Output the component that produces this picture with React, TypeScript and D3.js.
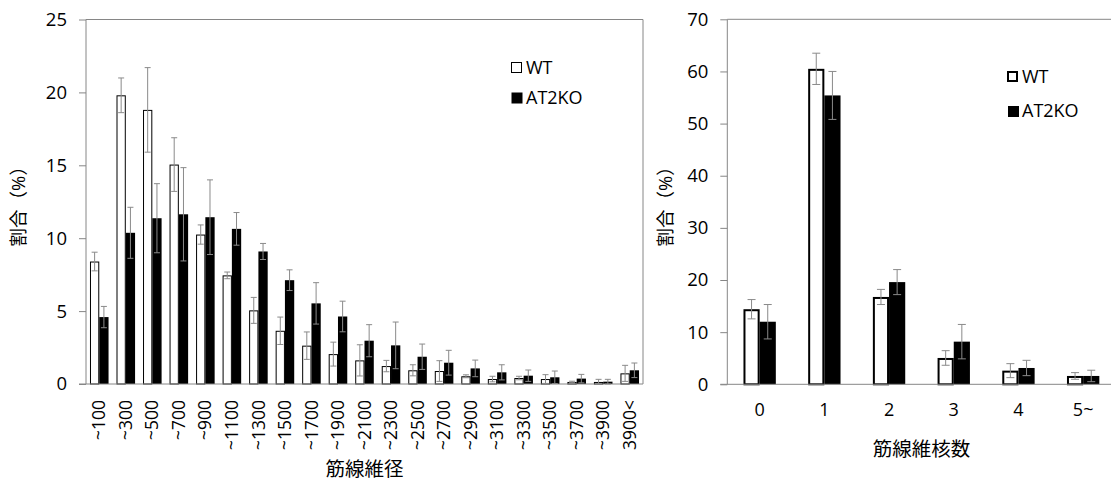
import React, { useEffect, useRef } from 'react';
import * as d3 from 'd3';

// 筋線維径 (fiber diameter) distribution
const diamCats = ['~100', '~300', '~500', '~700', '~900', '~1100', '~1300', '~1500', '~1700', '~1900', '~2100',
  '~2300', '~2500', '~2700', '~2900', '~3100', '~3300', '~3500', '~3700', '~3900', '3900<'];
const diamWT = [8.4, 19.8, 18.8, 15.05, 10.25, 7.45, 5.05, 3.65, 2.63, 2.05, 1.62, 1.23, 0.94, 0.89, 0.53, 0.34, 0.41, 0.34, 0.14, 0.14, 0.73];
const diamWTErr = [0.64, 1.19, 2.9, 1.84, 0.66, 0.23, 0.89, 0.94, 0.94, 0.82, 1.07, 0.39, 0.38, 0.71, 0.1, 0.19, 0.12, 0.3, 0.05, 0.18, 0.55];
const diamKO = [4.59, 10.37, 11.37, 11.64, 11.44, 10.64, 9.09, 7.12, 5.53, 4.63, 2.97, 2.65, 1.87, 1.46, 1.07, 0.8, 0.57, 0.46, 0.37, 0.16, 0.94];
const diamKOErr = [0.73, 1.75, 2.37, 3.2, 2.56, 1.12, 0.55, 0.71, 1.42, 1.05, 1.1, 1.6, 0.87, 0.85, 0.57, 0.52, 0.39, 0.43, 0.29, 0.16, 0.5];
const diamTicks = [0, 5, 10, 15, 20, 25];

// 筋線維核数 (nuclei per fiber)
const nucCats = ['0', '1', '2', '3', '4', '5~'];
const nucWT = [14.4, 60.5, 16.75, 5.05, 2.62, 1.6];
const nucWTErr = [1.85, 3.0, 1.45, 1.4, 1.34, 0.64];
const nucKO = [12.0, 55.4, 19.6, 8.18, 3.13, 1.6];
const nucKOErr = [3.3, 4.6, 2.4, 3.3, 1.47, 1.1];
const nucTicks = [0, 10, 20, 30, 40, 50, 60, 70];

const seriesNames = ['WT', 'AT2KO'];
const FONT = '"Open Sans", "Noto Sans CJK JP", sans-serif';
const AXIS = '#868686';
const INK = '#000';

function drawPanel(svg, opt) {
  const { cats, wt, wtErr, ko, koErr, ticks, left, right, top, bottom, ymax,
    rotateLabels, xTitle, xTitleY, yTitleX, wtStroke, cap, pad, legendX, legendY, legendGap, closeRight } = opt;

  const x = d3.scaleBand().domain(cats).range([left, right]).paddingInner(pad).paddingOuter(pad / 2);
  const xs = d3.scaleBand().domain(seriesNames).range([0, x.bandwidth()]);
  const y = d3.scaleLinear().domain([0, ymax]).range([bottom, top]);

  const g = svg.append('g');

  // frame
  g.append('line').attr('x1', left).attr('x2', right).attr('y1', top).attr('y2', top).attr('stroke', AXIS);
  if (closeRight) g.append('line').attr('x1', right).attr('x2', right).attr('y1', top).attr('y2', bottom).attr('stroke', AXIS);

  // y axis
  const ya = g.append('g').attr('transform', `translate(${left},0)`)
    .call(d3.axisLeft(y).tickValues(ticks).tickSize(7).tickPadding(12).tickFormat(d3.format('d')));
  ya.selectAll('line, path').attr('stroke', AXIS);
  ya.select('.domain').attr('d', `M0,${top}V${bottom}`);
  ya.selectAll('text').attr('fill', INK).style('font-size', '18.5px').style('font-family', FONT);

  const rows = cats.map((c, i) => ({ c, vals: [
    { s: 'WT', v: wt[i], e: wtErr[i] },
    { s: 'AT2KO', v: ko[i], e: koErr[i] },
  ] }));

  const grp = g.selectAll('.grp').data(rows).enter().append('g')
    .attr('transform', d => `translate(${x(d.c)},0)`);

  grp.selectAll('rect').data(d => d.vals).enter().append('rect')
    .attr('x', d => xs(d.s) + (d.s === 'WT' ? wtStroke / 2 : 0))
    .attr('y', d => y(d.v) + (d.s === 'WT' ? wtStroke / 2 : 0))
    .attr('width', d => xs.bandwidth() - (d.s === 'WT' ? wtStroke : 0))
    .attr('height', d => Math.max(0, bottom - y(d.v) - (d.s === 'WT' ? wtStroke / 2 : 0)))
    .attr('fill', d => d.s === 'WT' ? '#fff' : '#000')
    .attr('stroke', d => d.s === 'WT' ? '#000' : 'none')
    .attr('stroke-width', wtStroke);

  // error bars
  const eb = grp.selectAll('.eb').data(d => d.vals).enter().append('g')
    .attr('stroke', '#8a8a8a').attr('stroke-width', 1);
  const cx = d => xs(d.s) + xs.bandwidth() / 2;
  eb.append('line').attr('x1', cx).attr('x2', cx).attr('y1', d => y(d.v + d.e)).attr('y2', d => y(Math.max(0, d.v - d.e)));
  eb.append('line').attr('x1', d => cx(d) - cap).attr('x2', d => cx(d) + cap).attr('y1', d => y(d.v + d.e)).attr('y2', d => y(d.v + d.e));
  eb.append('line').attr('x1', d => cx(d) - cap).attr('x2', d => cx(d) + cap).attr('y1', d => y(Math.max(0, d.v - d.e))).attr('y2', d => y(Math.max(0, d.v - d.e)));

  // bottom axis line
  g.append('line').attr('x1', left - 7).attr('x2', right).attr('y1', bottom).attr('y2', bottom).attr('stroke', AXIS);

  // x labels
  const lab = g.selectAll('.xl').data(cats).enter().append('text')
    .style('font-size', '17.5px').style('font-family', FONT).attr('fill', INK);
  if (rotateLabels) {
    lab.attr('transform', d => `translate(${x(d) + x.bandwidth() / 2},${bottom + 16}) rotate(-90)`)
      .attr('text-anchor', 'end').attr('dy', '0.35em').text(d => d);
  } else {
    lab.attr('x', d => x(d) + x.bandwidth() / 2).attr('y', bottom + 32)
      .style('font-size', '18px').attr('text-anchor', 'middle').text(d => d);
  }

  // axis titles
  g.append('text').attr('x', (left + right) / 2).attr('y', xTitleY).attr('text-anchor', 'middle')
    .style('font-size', '19.5px').style('font-family', FONT).attr('fill', INK).text(xTitle);
  g.append('text').attr('transform', `translate(${yTitleX},${(top + bottom) / 2}) rotate(-90)`)
    .attr('text-anchor', 'middle').attr('dy', '0.35em')
    .style('font-size', '18.5px').style('font-family', FONT).attr('fill', INK).text('割合（%）');

  // legend
  const lg = g.selectAll('.lg').data(seriesNames).enter().append('g')
    .attr('transform', (d, i) => `translate(${legendX},${legendY + i * legendGap})`);
  lg.append('rect').attr('x', wtStroke / 2).attr('y', d => -11 + wtStroke / 2)
    .attr('width', d => 11 - (d === 'WT' ? wtStroke : 0)).attr('height', d => 11 - (d === 'WT' ? wtStroke : 0))
    .attr('fill', d => d === 'WT' ? '#fff' : '#000')
    .attr('stroke', d => d === 'WT' ? '#000' : 'none').attr('stroke-width', wtStroke);
  lg.append('text').attr('x', 15).attr('y', 0).attr('dy', '0.05em')
    .style('font-size', '18px').style('font-family', FONT).attr('fill', INK).text(d => d);
}

export default function App() {
  const svgRef = useRef(null);

  useEffect(() => {
    const svg = d3.select(svgRef.current);
    svg.selectAll('*').remove();

    drawPanel(svg, {
      cats: diamCats, wt: diamWT, wtErr: diamWTErr, ko: diamKO, koErr: diamKOErr, ticks: diamTicks,
      left: 86, right: 643, top: 19.5, bottom: 384, ymax: 25, rotateLabels: true,
      xTitle: '筋線維径', xTitleY: 476, yTitleX: 19, wtStroke: 1, cap: 3, pad: 0.3,
      legendX: 511, legendY: 73, legendGap: 30, closeRight: true,
    });

    drawPanel(svg, {
      cats: nucCats, wt: nucWT, wtErr: nucWTErr, ko: nucKO, koErr: nucKOErr, ticks: nucTicks,
      left: 727.3, right: 1115.5, top: 19.3, bottom: 384.3, ymax: 70, rotateLabels: false,
      xTitle: '筋線維核数', xTitleY: 456, yTitleX: 666, wtStroke: 2, cap: 4, pad: 0.5,
      legendX: 1007, legendY: 82, legendGap: 34, closeRight: false,
    });
  }, []);

  return (
    <svg ref={svgRef} width={1111} height={482}
      style={{ position: 'absolute', left: 0, top: 0, background: '#fff' }} />
  );
}
